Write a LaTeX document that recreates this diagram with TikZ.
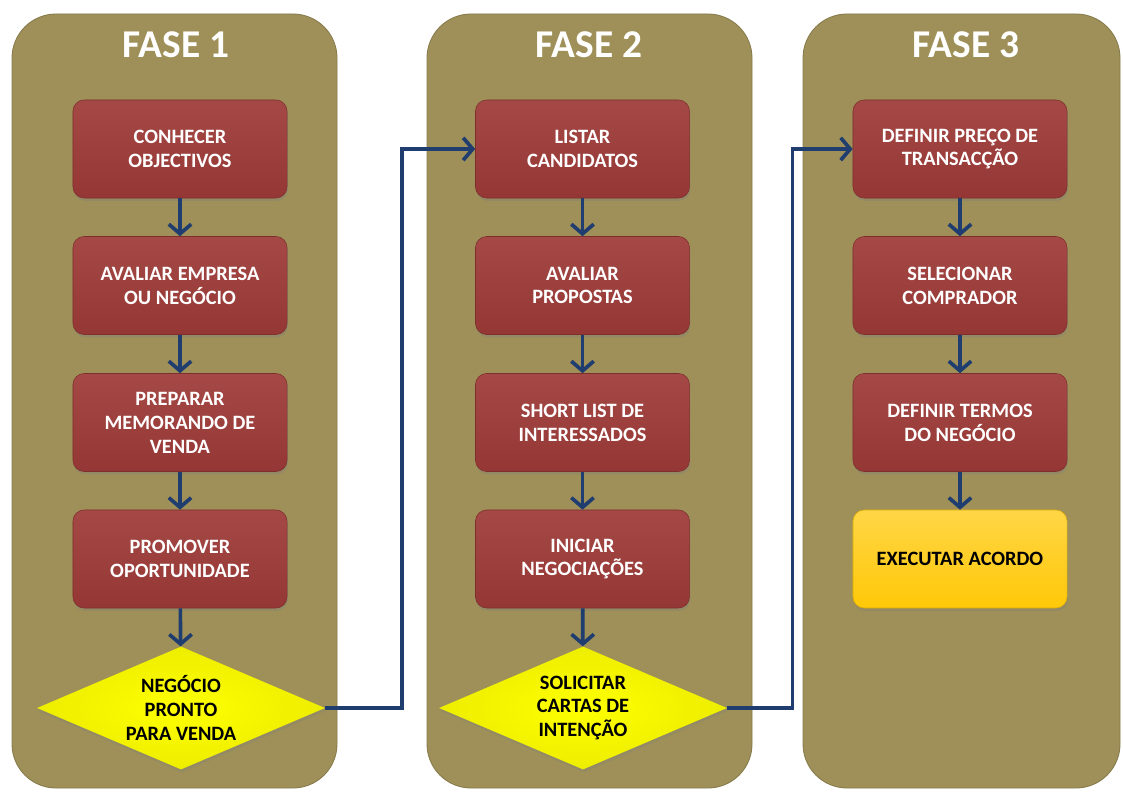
\documentclass[tikz,border=0pt]{standalone}
\usepackage{fontspec}
\setmainfont{Carlito}
\usepackage{tikz}
\usetikzlibrary{arrows.meta, shapes.geometric, shadows}
\definecolor{fasecor}{HTML}{9E9058}
\definecolor{vermelho}{HTML}{9E3B38}
\definecolor{azul}{HTML}{1F3D6E}
\definecolor{amarelo}{HTML}{FFFF00}
\definecolor{ouro}{HTML}{FFC808}
\tikzset{
    fase/.style={fill=fasecor, draw=fasecor!85!black, line width=0.6pt, rounded corners=1.1cm},
    titulo/.style={text=white, font=\bfseries\fontsize{28}{32}\selectfont},
    passo/.style={rectangle, rounded corners=0.28cm, minimum width=5.35cm, minimum height=2.45cm,
        top color=vermelho!93!white, bottom color=vermelho!94!black, draw=vermelho!80!black, line width=0.4pt,
        text=white, align=center, font=\bfseries\fontsize{14.5}{17}\selectfont,
        drop shadow={opacity=0.35, shadow xshift=0.6pt, shadow yshift=-2pt}},
    decisao/.style={diamond, aspect=2.34, minimum width=7.2cm, minimum height=3.075cm, inner sep=0pt,
        inner color=amarelo, outer color=amarelo!93!black, align=center,
        font=\bfseries\fontsize{14.5}{17}\selectfont,
        drop shadow={opacity=0.3, shadow xshift=0.6pt, shadow yshift=-2pt}},
    fim/.style={passo, top color=ouro!75!white, bottom color=ouro, draw=ouro!85!black, text=black},
    seta/.style={draw=azul, line width=2.6pt, -{Straight Barb[length=2.4mm, width=5.6mm]}},
}
\begin{document}
\begin{tikzpicture}[x=0.025cm, y=-0.025cm]
        \useasboundingbox (0,0) rectangle (1123,795);
        \draw[fase] (12,14) rectangle (337,788);
        \draw[fase] (427,14) rectangle (752,788);
        \draw[fase] (803,14) rectangle (1120,788);

        \node[titulo] at (176,45)   (f1) {FASE 1};
        \node[titulo] at (589,45)   (f2) {FASE 2};
        \node[titulo] at (966,45)   (f3) {FASE 3};

        % fase 1
        \node[passo] at (180,149)   (a1) {CONHECER\\OBJECTIVOS};
        \node[passo] at (180,285.5) (a2) {AVALIAR EMPRESA\\OU NEGÓCIO};
        \node[passo] at (180,422.5) (a3) {PREPARAR\\MEMORANDO DE\\VENDA};
        \node[passo] at (180,559)   (a4) {PROMOVER\\OPORTUNIDADE};
        \node[decisao] at (181,708) (da) {NEGÓCIO\\PRONTO\\PARA VENDA};

        % fase 2
        \node[passo] at (582.5,149)   (b1) {LISTAR\\CANDIDATOS};
        \node[passo] at (582.5,285.5) (b2) {AVALIAR\\PROPOSTAS};
        \node[passo] at (582.5,422.5) (b3) {SHORT LIST DE\\INTERESSADOS};
        \node[passo] at (582.5,559)   (b4) {INICIAR\\NEGOCIAÇÕES};
        \node[decisao] at (583,708)   (db) {SOLICITAR\\CARTAS DE\\INTENÇÃO};

        % fase 3
        \node[passo] at (960,149)   (c1) {DEFINIR PREÇO DE\\TRANSACÇÃO};
        \node[passo] at (960,285.5) (c2) {SELECIONAR\\COMPRADOR};
        \node[passo] at (960,422.5) (c3) {DEFINIR TERMOS\\DO NEGÓCIO};
        \node[fim] at (960,559)     (c4) {EXECUTAR ACORDO};

        \draw[seta] (a1) -- (a2);\draw[seta] (a2) -- (a3);\draw[seta] (a3) -- (a4);\draw[seta] (a4) -- (da);
        \draw[seta] (b1) -- (b2);\draw[seta] (b2) -- (b3);\draw[seta] (b3) -- (b4);\draw[seta] (b4) -- (db);
        \draw[seta] (c1) -- (c2);\draw[seta] (c2) -- (c3);\draw[seta] (c3) -- (c4);

        \draw[seta, rounded corners=0pt] (da.east) -- ++(77,0) |- (b1.west);
        \draw[seta, rounded corners=0pt] (db.east) -- ++(65,0) |- (c1.west);
    \end{tikzpicture}
\end{document}
